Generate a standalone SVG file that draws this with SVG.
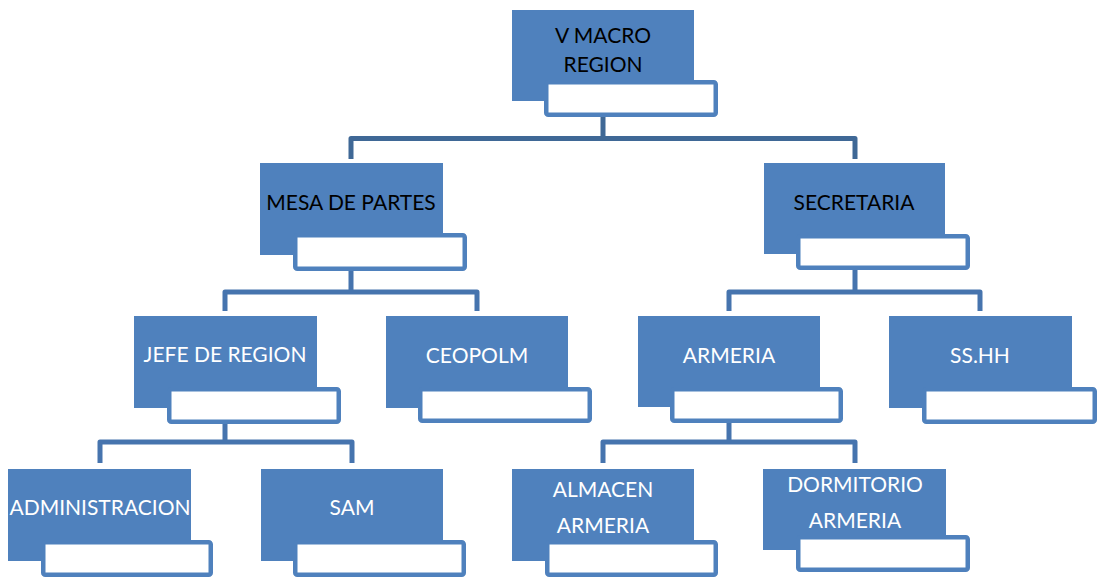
<svg xmlns="http://www.w3.org/2000/svg" width="1099" height="577" viewBox="0 0 1099 577">
<style>
.b{fill:#4F81BD}
.w{fill:#FFFFFF;stroke:#4F81BD;stroke-width:4.5}
.t{font-family:Lato,"Liberation Sans",sans-serif;font-size:21px;text-anchor:middle}
.k{fill:#000000}
.l{fill:#FFFFFF}
.c1{fill:none;stroke:#3F6896;stroke-width:5;stroke-linejoin:round}
.c2{fill:none;stroke:#4674AE;stroke-width:5;stroke-linejoin:round}
</style>
<g id="connectors">
<path class="c1" d="M603,117 V138.5 M351,159 V138.5 H855 V159"/>
<path class="c2" d="M351,271 V292 M225,311 V292 H477 V311"/>
<path class="c2" d="M855,270 V292 M729,311 V292 H980 V311"/>
<path class="c2" d="M225,424 V442 M100,463 V442 H352 V463"/>
<path class="c2" d="M729,423 V442 M603,463 V442 H855 V463"/>
</g>
<g id="n-vmacro">
<rect class="b" x="512" y="10" width="182" height="91"/>
<rect class="w" x="546.25" y="82.25" width="169.5" height="32.5" rx="2"/>
<text class="t k" x="603" y="43">V MACRO</text>
<text class="t k" x="603" y="72">REGION</text>
</g>
<g id="n-mesa">
<rect class="b" x="260" y="163" width="183" height="92"/>
<rect class="w" x="295.25" y="235.25" width="169.5" height="33.5" rx="2"/>
<text class="t k" x="351" y="210">MESA DE PARTES</text>
</g>
<g id="n-secretaria">
<rect class="b" x="764" y="163" width="181" height="91"/>
<rect class="w" x="798.25" y="236.25" width="169.5" height="31.5" rx="2"/>
<text class="t k" x="854" y="210">SECRETARIA</text>
</g>
<g id="n-jefe">
<rect class="b" x="134" y="316" width="183" height="92"/>
<rect class="w" x="169.25" y="389.25" width="169.5" height="32.5" rx="2"/>
<text class="t l" x="225" y="362">JEFE DE REGION</text>
</g>
<g id="n-ceopolm">
<rect class="b" x="386" y="316" width="182" height="92"/>
<rect class="w" x="420.25" y="389.25" width="169.5" height="31.5" rx="2"/>
<text class="t l" x="477" y="363">CEOPOLM</text>
</g>
<g id="n-armeria">
<rect class="b" x="638" y="316" width="182" height="91"/>
<rect class="w" x="672.25" y="389.25" width="168.5" height="31.5" rx="2"/>
<text class="t l" x="729" y="363">ARMERIA</text>
</g>
<g id="n-sshh">
<rect class="b" x="889" y="316" width="183" height="92"/>
<rect class="w" x="924.25" y="389.25" width="170.5" height="32.5" rx="2"/>
<text class="t l" x="980" y="363">SS.HH</text>
</g>
<g id="n-admin">
<rect class="b" x="8" y="469" width="183" height="92"/>
<rect class="w" x="43.25" y="542.25" width="167.5" height="32.5" rx="2"/>
<text class="t l" x="100" y="515">ADMINISTRACION</text>
</g>
<g id="n-sam">
<rect class="b" x="261" y="469" width="182" height="92"/>
<rect class="w" x="295.25" y="542.25" width="168.5" height="32.5" rx="2"/>
<text class="t l" x="352" y="515">SAM</text>
</g>
<g id="n-almacen">
<rect class="b" x="512" y="469" width="182" height="92"/>
<rect class="w" x="547.25" y="542.25" width="168.5" height="32.5" rx="2"/>
<text class="t l" x="603" y="497">ALMACEN</text>
<text class="t l" x="603" y="533">ARMERIA</text>
</g>
<g id="n-dormitorio">
<rect class="b" x="763" y="469" width="183" height="81"/>
<rect class="w" x="798.25" y="537.25" width="169.5" height="32.5" rx="2"/>
<text class="t l" x="855" y="492">DORMITORIO</text>
<text class="t l" x="855" y="528">ARMERIA</text>
</g>
</svg>
